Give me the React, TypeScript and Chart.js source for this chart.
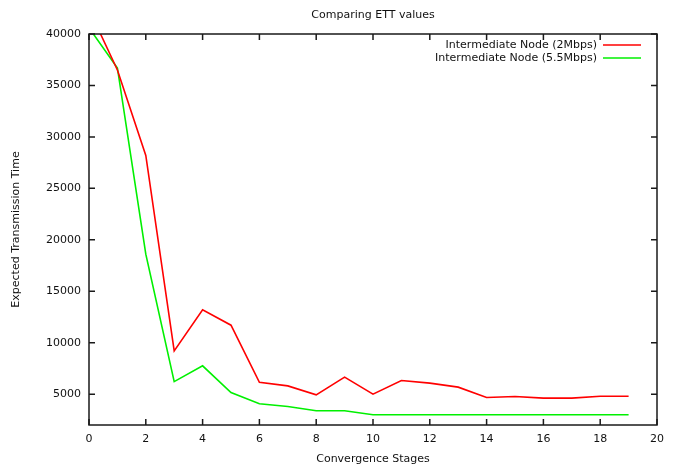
import React, { useEffect, useRef } from "react";
import { Chart, registerables } from "chart.js";

Chart.register(...registerables);

const chartTitle = "Comparing ETT values";
const xAxisTitle = "Convergence Stages";
const yAxisTitle = "Expected Transmission Time";

const stages = [0, 1, 2, 3, 4, 5, 6, 7, 8, 9, 10, 11, 12, 13, 14, 15, 16, 17, 18, 19];
const seriesNames = ["Intermediate Node (2Mbps)", "Intermediate Node (5.5Mbps)"];
const node2Mbps = [42400, 36500, 28200, 9200, 13200, 11700, 6150, 5800, 4930, 6650, 5000, 6320, 6070, 5680, 4670, 4770, 4610, 4610, 4800, 4800];
const node55Mbps = [40600, 36700, 18600, 6220, 7750, 5150, 4060, 3800, 3380, 3380, 2990, 2990, 2990, 2990, 2990, 2990, 2990, 2990, 2990, 2990];
const seriesColors = ["#ff0000", "#00f000"];

const xTicks = [0, 2, 4, 6, 8, 10, 12, 14, 16, 18, 20];
const yTicks = [5000, 10000, 15000, 20000, 25000, 30000, 35000, 40000];
const yMin = 2000;
const yMax = 40000;

const framePlugin = {
  id: "frameTicks",
  afterDraw(chart: any) {
    const { ctx, chartArea } = chart;
    const { left, right, top, bottom } = chartArea;
    const xs = chart.scales.x;
    const ys = chart.scales.y;
    const len = 6;
    ctx.save();
    ctx.strokeStyle = "#1a1a1a";
    ctx.lineWidth = 1.5;
    ctx.beginPath();
    ys.ticks.forEach((t: any) => {
      const p = ys.getPixelForValue(t.value);
      ctx.moveTo(left, p);
      ctx.lineTo(left + len, p);
      ctx.moveTo(right, p);
      ctx.lineTo(right - len, p);
    });
    xs.ticks.forEach((t: any) => {
      const p = xs.getPixelForValue(t.value);
      ctx.moveTo(p, bottom);
      ctx.lineTo(p, bottom - len);
      ctx.moveTo(p, top);
      ctx.lineTo(p, top + len);
    });
    ctx.stroke();
    ctx.strokeRect(left, top, right - left, bottom - top);
    ctx.restore();
  },
};

const legendPlugin = {
  id: "rightLegend",
  afterDraw(chart: any) {
    const { ctx, chartArea } = chart;
    ctx.save();
    ctx.font = "11px 'DejaVu Sans'";
    ctx.textAlign = "right";
    ctx.textBaseline = "middle";
    chart.data.datasets.forEach((ds: any, i: number) => {
      const y = chartArea.top + 11 + i * 13;
      ctx.fillStyle = "#111";
      ctx.fillText(ds.label, chartArea.right - 60, y);
      ctx.strokeStyle = ds.borderColor;
      ctx.lineWidth = 1.5;
      ctx.beginPath();
      ctx.moveTo(chartArea.right - 54, y);
      ctx.lineTo(chartArea.right - 16, y);
      ctx.stroke();
    });
    ctx.restore();
  },
};

export default function App() {
  const ref = useRef<HTMLCanvasElement | null>(null);
  useEffect(() => {
    if (!ref.current) return;
    Chart.defaults.font.family = "'DejaVu Sans'";
    Chart.defaults.color = "#111";
    const chart = new Chart(ref.current, {
      type: "line",
      data: {
        datasets: [
          {
            label: seriesNames[0],
            data: stages.map((s, i) => ({ x: s, y: node2Mbps[i] })),
            borderColor: seriesColors[0],
            borderWidth: 1.6,
            pointRadius: 0,
            tension: 0,
            clip: 0,
          },
          {
            label: seriesNames[1],
            data: stages.map((s, i) => ({ x: s, y: node55Mbps[i] })),
            borderColor: seriesColors[1],
            borderWidth: 1.6,
            pointRadius: 0,
            tension: 0,
            clip: 0,
          },
        ],
      },
      options: {
        animation: false,
        responsive: false,
        devicePixelRatio: 1,
        layout: { padding: { left: 0, right: 21, top: 0, bottom: 0 } },
        plugins: {
          legend: { display: false },
          tooltip: { enabled: false },
          title: {
            display: true,
            text: chartTitle,
            fullSize: false,
            font: { size: 11, weight: "normal" },
            color: "#111",
            padding: { top: 9, bottom: 11.8 },
          },
        },
        scales: {
          x: {
            type: "linear",
            min: 0,
            max: 20,
            afterBuildTicks: (scale: any) => {
              scale.ticks = xTicks.map((v) => ({ value: v }));
            },
            afterFit: (scale: any) => {
              scale.height = 43;
            },
            grid: { display: false },
            border: { display: false },
            ticks: { font: { size: 11 }, padding: 0, maxRotation: 0, color: "#111", callback: (v: any) => String(v) },
            title: {
              display: true,
              text: xAxisTitle,
              font: { size: 11 },
              padding: { top: 0, bottom: 2 },
              color: "#111",
            },
          },
          y: {
            type: "linear",
            min: yMin,
            max: yMax,
            afterBuildTicks: (scale: any) => {
              scale.ticks = yTicks.map((v) => ({ value: v }));
            },
            afterFit: (scale: any) => {
              scale.width = 89;
            },
            grid: { display: false },
            border: { display: false },
            ticks: { font: { size: 11 }, padding: 0, color: "#111", callback: (v: any) => String(v) },
            title: {
              display: true,
              text: yAxisTitle,
              font: { size: 11 },
              padding: { top: 10, bottom: 0 },
              color: "#111",
            },
          },
        },
      },
      plugins: [framePlugin, legendPlugin],
    } as any);
    return () => chart.destroy();
  }, []);
  return (
    <div style={{ position: "absolute", left: 0, top: 0, width: 678, height: 468, background: "#fff" }}>
      <canvas ref={ref} width={678} height={468} style={{ width: 678, height: 468, display: "block" }} />
    </div>
  );
}
